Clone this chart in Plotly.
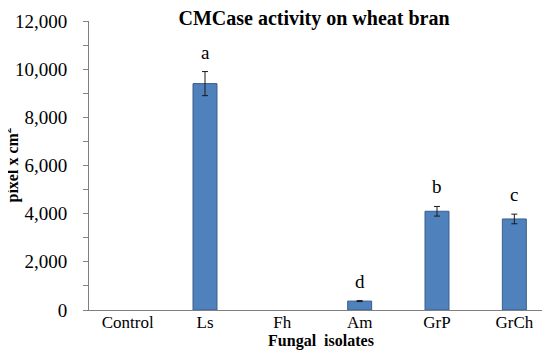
import plotly.graph_objects as go

categories = ["Control", "Ls", "Fh", "Am", "GrP", "GrCh"]
values = [0, 9400, 0, 370, 4100, 3780]
errors = [0, 500, 0, 20, 200, 200]
letters = ["", "a", "", "d", "b", "c"]
y_ticks = [0, 2000, 4000, 6000, 8000, 10000, 12000]
y_tick_labels = ["0", "2,000", "4,000", "6,000", "8,000", "10,000", "12,000"]

serif = "Liberation Serif"

bar_y = [v if v else None for v in values]

fig = go.Figure()
fig.add_trace(go.Bar(
    x=categories, y=bar_y,
    marker=dict(color="#4F81BD", line=dict(color="#3B5E8C", width=1)),
    error_y=dict(type="data", array=errors, visible=True, color="#1a1a1a",
                 thickness=1, width=3),
    showlegend=False,
))

for c, v, e, t in zip(categories, values, errors, letters):
    if t:
        fig.add_annotation(x=c, y=v + e, text=t, showarrow=False,
                           yanchor="bottom", yshift=7,
                           font=dict(family=serif, size=19, color="black"))

# y-axis title as a rotated annotation for precise placement
fig.add_annotation(text="<b>pixel x cm<sup>2</sup></b>", xref="paper", yref="paper",
                   x=(4 - 81) / 464, y=0.5, xanchor="center", yanchor="middle",
                   textangle=-90, showarrow=False,
                   font=dict(family=serif, size=16, color="black"))

fig.update_layout(
    width=550, height=359,
    margin=dict(l=81, r=5, t=13, b=57),
    plot_bgcolor="white", paper_bgcolor="white",
    bargap=0.69,
    title=dict(text="<b>CMCase activity on wheat bran</b>", x=306 / 550, xref="container",
               xanchor="center", y=1 - 10 / 359, yanchor="middle", yref="container",
               font=dict(family=serif, size=20, color="black")),
    font=dict(family=serif, color="black"),
)
fig.update_xaxes(
    showline=True, linecolor="#808080", linewidth=1,
    ticks="", tickfont=dict(family=serif, size=17, color="black"),
    ticklabelstandoff=-3,
    title=dict(text="<b>Fungal  isolates</b>", font=dict(family=serif, size=16, color="black"),
               standoff=2),
)
fig.update_yaxes(
    range=[0, 12000], showgrid=False, zeroline=False,
    showline=True, linecolor="#808080", linewidth=1,
    tickvals=y_ticks, ticktext=y_tick_labels,
    ticks="outside", ticklen=5, tickcolor="#808080",
    minor=dict(dtick=1000, ticks="outside", ticklen=5, tickcolor="#808080", showgrid=False),
    tickfont=dict(family=serif, size=19, color="black"),
    ticklabelstandoff=12,
    automargin=False,
)

fig.write_html("out.html")
